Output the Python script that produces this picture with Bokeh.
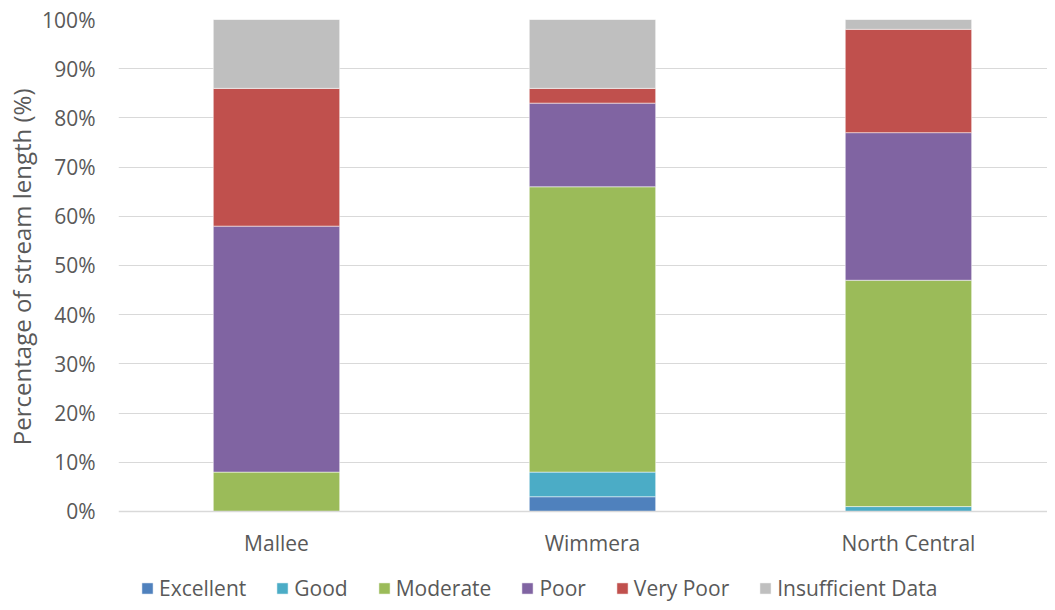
from bokeh.plotting import figure
from bokeh.models import ColumnDataSource, Range1d, FixedTicker, PrintfTickFormatter, Legend, LegendItem, Title
from bokeh.embed import file_html
from bokeh.resources import INLINE

regions = ["Mallee", "Wimmera", "North Central"]
conditions = ["Excellent", "Good", "Moderate", "Poor", "Very Poor", "Insufficient Data"]
excellent = [0, 3, 0]
good = [0, 5, 1]
moderate = [8, 58, 46]
poor = [50, 17, 30]
very_poor = [28, 3, 21]
insufficient = [14, 14, 2]
colors = ["#4F81BD", "#4BACC6", "#9BBB59", "#8064A2", "#C0504D", "#BFBFBF"]

keys = ["excellent", "good", "moderate", "poor", "very_poor", "insufficient"]
src = ColumnDataSource(dict(
    x=list(range(len(regions))),
    excellent=excellent, good=good, moderate=moderate,
    poor=poor, very_poor=very_poor, insufficient=insufficient,
))

FONT = "Open Sans"
TXT = "#595959"

p = figure(width=1047, height=602, output_backend="svg", toolbar_location=None,
           x_range=Range1d(-0.5, 2.44), y_range=Range1d(-18.5, 100),
           min_border_left=111, min_border_right=0, min_border_top=19, min_border_bottom=0)
p.outline_line_color = None

rs = p.vbar_stack(keys, x="x", width=0.4, color=colors, source=src,
                  line_color="white", line_alpha=0.5, line_width=1)

p.xgrid.grid_line_color = None
p.ygrid.grid_line_color = "#D9D9D9"
p.ygrid.grid_line_width = 1
p.ygrid.ticker = FixedTicker(ticks=list(range(10, 101, 10)))

p.yaxis.ticker = FixedTicker(ticks=list(range(0, 101, 10)))
p.yaxis.formatter = PrintfTickFormatter(format="%d%%")
p.yaxis.axis_line_color = None
p.yaxis.major_tick_line_color = None
p.yaxis.minor_tick_line_color = None
p.yaxis.major_label_standoff = 17

ytitle = Title(text="Percentage of stream length (%)", align="right", offset=69,
               text_font=FONT, text_font_style="normal", text_font_size="24px",
               text_color=TXT, standoff=4)
p.add_layout(ytitle, "left")

p.xaxis.fixed_location = 0
p.xaxis.ticker = FixedTicker(ticks=[0, 1, 2])
p.xaxis.major_label_overrides = {i: r for i, r in enumerate(regions)}
p.xaxis.axis_line_color = "#D9D9D9"
p.xaxis.axis_line_width = 1.5
p.xaxis.major_tick_line_color = None
p.xaxis.minor_tick_line_color = None
p.xaxis.major_label_standoff = 12

for ax in (p.xaxis, p.yaxis):
    ax.major_label_text_font = FONT
    ax.major_label_text_font_size = "21px"
    ax.major_label_text_color = TXT

legend = Legend(items=[LegendItem(label=c, renderers=[r]) for c, r in zip(conditions, rs)],
                orientation="horizontal", location=(22, 0))
legend.border_line_color = None
legend.background_fill_alpha = 0
legend.label_text_font = FONT
legend.label_text_font_size = "21px"
legend.label_text_color = TXT
legend.glyph_width = 14
legend.glyph_height = 14
legend.label_standoff = 5
legend.spacing = 29
legend.padding = 0
legend.margin = 0
p.add_layout(legend, "center")

open("out.html", "w").write(file_html(p, INLINE))
